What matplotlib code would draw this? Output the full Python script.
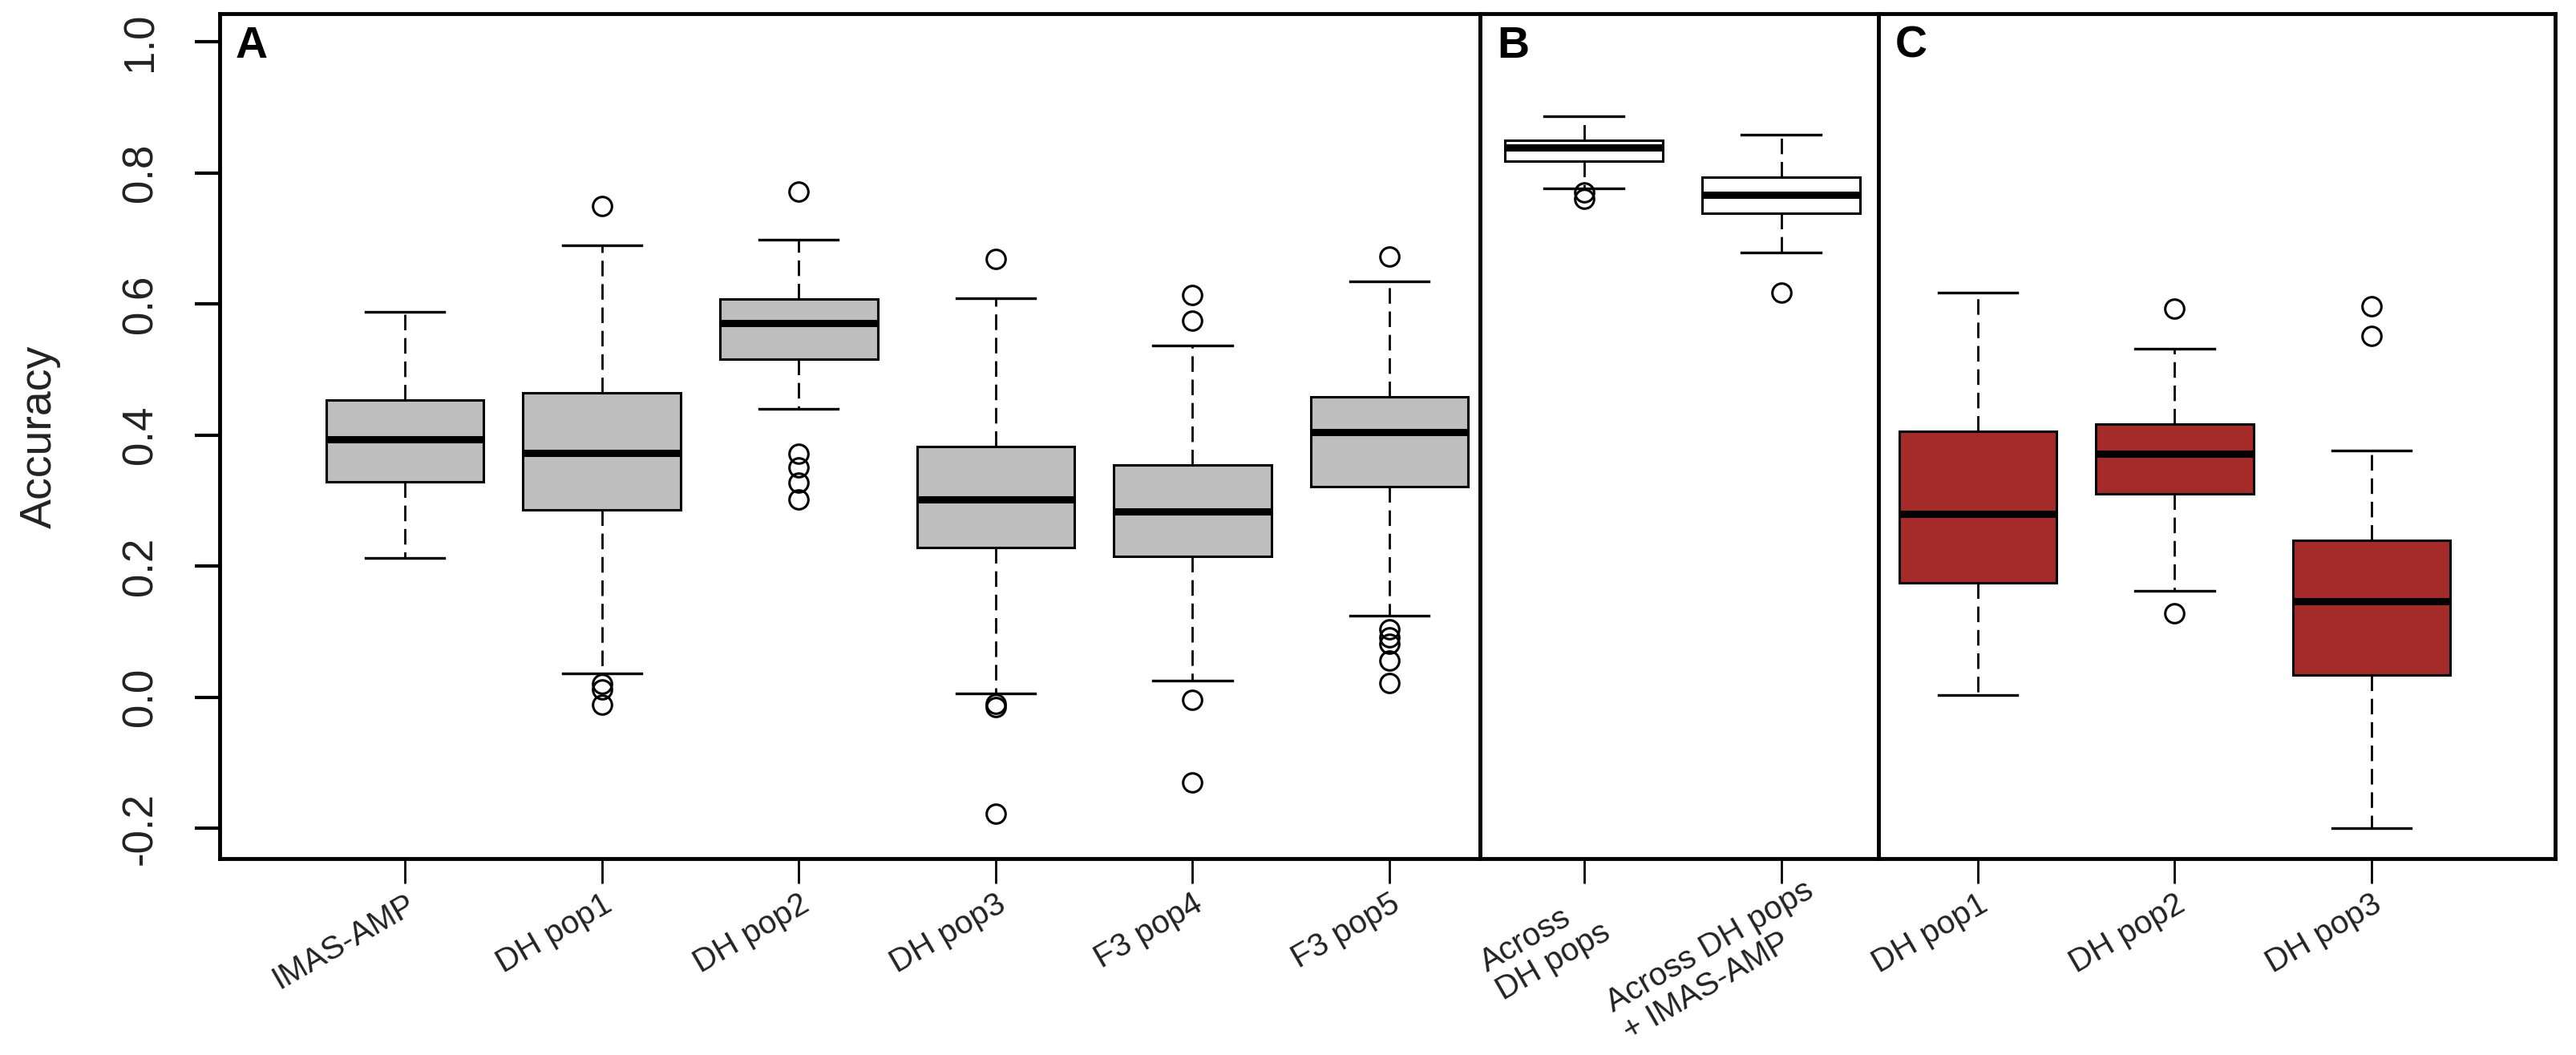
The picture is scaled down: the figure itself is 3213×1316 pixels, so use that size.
import matplotlib
matplotlib.use("Agg")
import matplotlib.pyplot as plt
from matplotlib.transforms import ScaledTranslation

plt.rcParams['font.family'] = ['Liberation Sans', 'DejaVu Sans']

# panel A: single populations (grey)
labels_a = ["IMAS-AMP", "DH pop1", "DH pop2", "DH pop3", "F3 pop4", "F3 pop5"]
whishi_a = [0.588, 0.689, 0.698, 0.609, 0.537, 0.635]
q3_a = [0.453, 0.464, 0.608, 0.383, 0.355, 0.458]
med_a = [0.394, 0.373, 0.571, 0.302, 0.284, 0.405]
q1_a = [0.329, 0.286, 0.516, 0.228, 0.215, 0.322]
whislo_a = [0.213, 0.036, 0.440, 0.006, 0.025, 0.124]
fliers_a = [[],
            [0.750, 0.020, 0.012, -0.011],
            [0.771, 0.371, 0.351, 0.327, 0.302],
            [0.669, -0.010, -0.015, -0.178],
            [0.614, 0.574, -0.004, -0.130],
            [0.672, 0.104, 0.092, 0.082, 0.056, 0.022]]

# panel B: across populations (white)
labels_b = ["Across\nDH pops", "Across DH pops\n+ IMAS-AMP"]
whishi_b = [0.886, 0.858]
q3_b = [0.850, 0.794]
med_b = [0.839, 0.767]
q1_b = [0.818, 0.739]
whislo_b = [0.776, 0.679]
fliers_b = [[0.770, 0.760], [0.617]]

# panel C: DH pops (brown)
labels_c = ["DH pop1", "DH pop2", "DH pop3"]
whishi_c = [0.617, 0.532, 0.376]
q3_c = [0.406, 0.417, 0.239]
med_c = [0.280, 0.371, 0.146]
q1_c = [0.175, 0.311, 0.034]
whislo_c = [0.003, 0.163, -0.199]
fliers_c = [[], [0.593, 0.128], [0.597, 0.551]]

yticks = [-0.2, 0.0, 0.2, 0.4, 0.6, 0.8, 1.0]

W, H = 3213, 1316
fig = plt.figure(figsize=(W / 100, H / 100), dpi=100)

bot = 1 - 1071 / H
hgt = (1071 - 17) / H
ax_a = fig.add_axes([274 / W, bot, (1846 - 274) / W, hgt])
ax_b = fig.add_axes([1846 / W, bot, (2343 - 1846) / W, hgt])
ax_c = fig.add_axes([2343 / W, bot, (3187 - 2343) / W, hgt])


def draw(ax, labels, q1, med, q3, lo, hi, fl, color, xlim):
    stats = []
    for i in range(len(labels)):
        stats.append(dict(label=labels[i], q1=q1[i], med=med[i], q3=q3[i],
                          whislo=lo[i], whishi=hi[i], fliers=fl[i]))
    pos = list(range(1, len(labels) + 1))
    ax.bxp(stats, positions=pos, widths=0.8, capwidths=0.4, patch_artist=True,
           boxprops=dict(facecolor=color, edgecolor='black', linewidth=2.2),
           medianprops=dict(color='black', linewidth=6.5, solid_capstyle='butt'),
           whiskerprops=dict(color='black', linewidth=2, linestyle=(0, (7, 3.5))),
           capprops=dict(color='black', linewidth=2.4),
           flierprops=dict(marker='o', markerfacecolor='none', markeredgecolor='black',
                           markersize=17, markeredgewidth=2.2))
    ax.set_xlim(*xlim)
    ax.set_ylim(-0.246, 1.043)
    ax.set_xticks(pos)
    ax.tick_params(axis='x', length=22, width=2, pad=5, labelsize=29,
                   colors='black', labelcolor='#222222')
    ax.set_xticklabels(labels, rotation=30, ha='right', va='top',
                       rotation_mode='anchor', multialignment='left', linespacing=1.1)
    for s in ax.spines.values():
        s.set_linewidth(3.5)


draw(ax_a, labels_a, q1_a, med_a, q3_a, whislo_a, whishi_a, fliers_a, '#BEBEBE', (0.059, 6.46))
draw(ax_b, labels_b, q1_b, med_b, q3_b, whislo_b, whishi_b, fliers_b, 'white', (0.473, 2.494))
draw(ax_c, labels_c, q1_c, med_c, q3_c, whislo_c, whishi_c, fliers_c, '#A52A2A', (0.495, 3.933))

# the long two-line label sits a little up and right of its tick
lab = ax_b.get_xticklabels()[1]
lab.set_transform(lab.get_transform() + ScaledTranslation(0.28, 0.17, fig.dpi_scale_trans))

ax_a.set_yticks(yticks)
ax_a.tick_params(axis='y', length=22, width=3, pad=31, labelsize=38, labelcolor='#222222')
ax_a.set_yticklabels(['%.1f' % v for v in yticks], rotation=90, va='center')
for ax in (ax_b, ax_c):
    ax.tick_params(axis='y', left=False, labelleft=False)

fig.text(50 / W, 1 - 545 / H, 'Accuracy', rotation=90, fontsize=40,
         ha='center', va='center', color='#222222')

for letter, x in (('A', 294), ('B', 1867), ('C', 2364)):
    fig.text(x / W, 1 - 32 / H, letter, fontsize=40, fontweight='bold', va='top', ha='left')

fig.savefig('out.png', dpi=100)
